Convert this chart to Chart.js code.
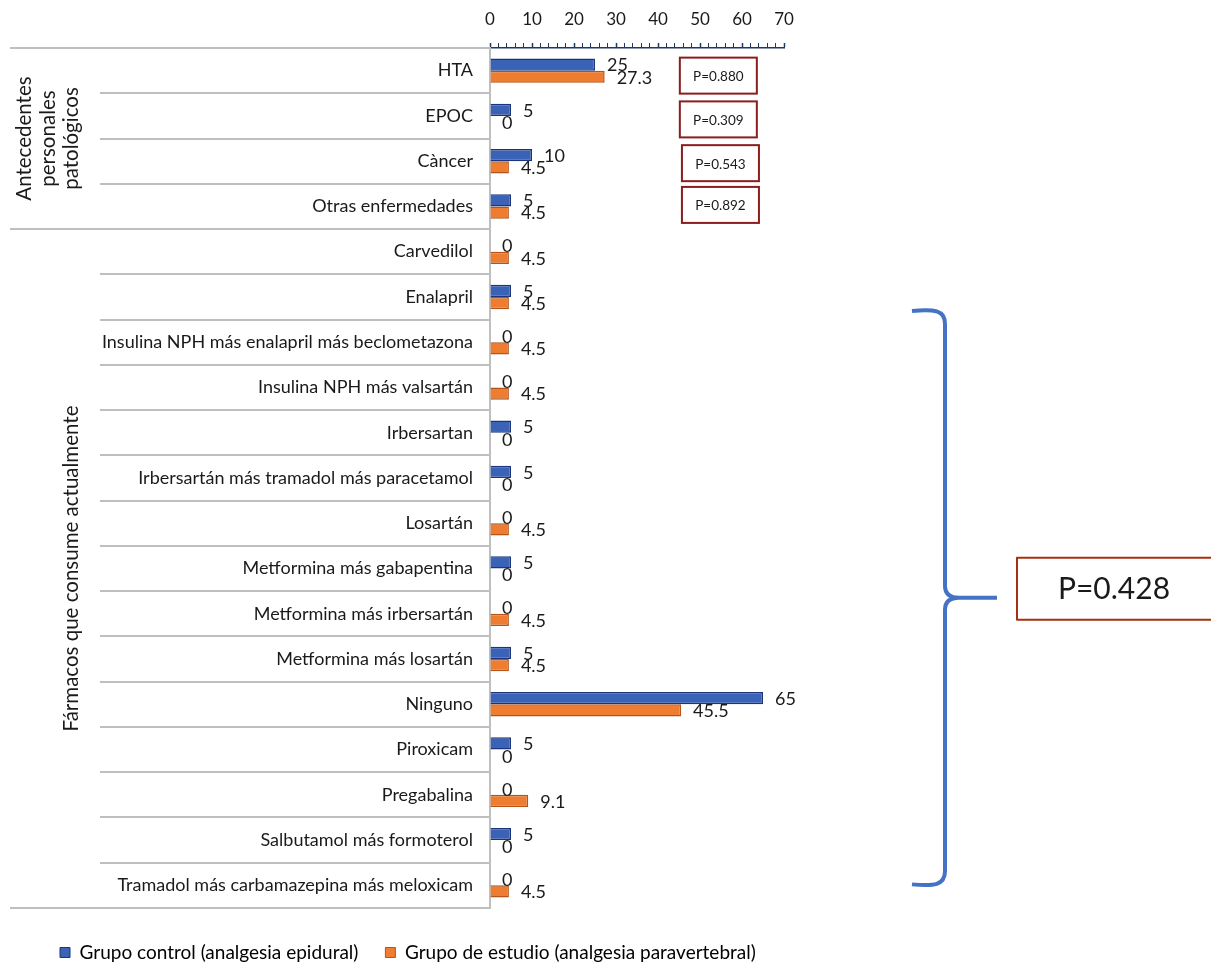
<!DOCTYPE html>
<html>
<head>
<meta charset="utf-8">
<title>Antecedentes y fármacos por grupo</title>
<script src="https://cdn.jsdelivr.net/npm/chart.js@4.4.1/dist/chart.umd.min.js"></script>
<style>
  html, body { margin: 0; padding: 0; background: #ffffff; }
  canvas { display: block; }
</style>
</head>
<body>
<canvas id="chart" width="1211" height="967"></canvas>
<script>
// ---- data ----
const categories = [
  'HTA',
  'EPOC',
  'Càncer',
  'Otras enfermedades',
  'Carvedilol',
  'Enalapril',
  'Insulina NPH más enalapril más beclometazona',
  'Insulina NPH más valsartán',
  'Irbersartan',
  'Irbersartán más tramadol más paracetamol',
  'Losartán',
  'Metformina más gabapentina',
  'Metformina más irbersartán',
  'Metformina más losartán',
  'Ninguno',
  'Piroxicam',
  'Pregabalina',
  'Salbutamol más formoterol',
  'Tramadol más carbamazepina más meloxicam'
];
const controlValues = [25, 5, 10, 5, 0, 5, 0, 0, 5, 5, 0, 5, 0, 5, 65, 5, 0, 5, 0];
const studyValues   = [27.3, 0, 4.5, 4.5, 4.5, 4.5, 4.5, 4.5, 0, 0, 4.5, 0, 4.5, 4.5, 45.5, 0, 9.1, 0, 4.5];
const seriesNames = ['Grupo control (analgesia epidural)', 'Grupo de estudio (analgesia paravertebral)'];
const xTickLabels = [0, 10, 20, 30, 40, 50, 60, 70];
const groupLabels = [['Antecedentes', 'personales', 'patológicos'], ['Fármacos que consume actualmente']];
const groupSizes = [4, 15];
const conditionPValues = ['P=0.880', 'P=0.309', 'P=0.543', 'P=0.892'];
const medicationPValue = 'P=0.428';

// ---- styling ----
const FONT = "Lato, 'Open Sans', sans-serif";
const TEXT = '#1a1a1a';
const SEP = '#bfbfbf';
const BLUE = '#3a63b8', BLUE_EDGE = '#1c3579';
const ORANGE = '#ee7d31', ORANGE_EDGE = '#b4531a';

const whiteBackground = {
  id: 'whiteBackground',
  beforeDraw(chart) {
    const c = chart.ctx;
    c.save();
    c.fillStyle = '#ffffff';
    c.fillRect(0, 0, chart.width, chart.height);
    c.restore();
  }
};

// row separators and rotated group titles on the category side
const categoryFrame = {
  id: 'categoryFrame',
  beforeDatasetsDraw(chart) {
    const c = chart.ctx;
    const area = chart.chartArea;
    const step = (area.bottom - area.top) / categories.length;
    const groupEnds = [];
    let acc = 0;
    groupSizes.forEach(n => { acc += n; groupEnds.push(acc); });
    c.save();
    c.strokeStyle = SEP;
    c.lineWidth = 2;
    for (let i = 0; i <= categories.length; i++) {
      const py = Math.round(area.top + i * step);
      const full = i === 0 || groupEnds.includes(i);
      c.beginPath();
      c.moveTo(full ? 10 : 100, py);
      c.lineTo(area.left, py);
      c.stroke();
    }
    // group titles, written bottom-to-top
    c.fillStyle = TEXT;
    c.font = '20.5px ' + FONT;
    c.textAlign = 'center';
    c.textBaseline = 'middle';
    let start = 0;
    const columns = [[48, 23.5], [71, 0]];
    groupLabels.forEach((lines, g) => {
      const y0 = area.top + start * step;
      const y1 = area.top + (start + groupSizes[g]) * step;
      const cy = (y0 + y1) / 2;
      const [cx, lh] = columns[g];
      lines.forEach((line, k) => {
        const lx = cx + (k - (lines.length - 1) / 2) * lh;
        c.save();
        c.translate(lx, cy);
        c.rotate(-Math.PI / 2);
        c.fillText(line, 0, 0);
        c.restore();
      });
      start += groupSizes[g];
    });
    c.restore();
  }
};

// value labels at the end of every bar
const valueLabels = {
  id: 'valueLabels',
  afterDatasetsDraw(chart) {
    const c = chart.ctx;
    c.save();
    c.fillStyle = TEXT;
    c.font = '18px ' + FONT;
    c.textAlign = 'left';
    c.textBaseline = 'middle';
    chart.data.datasets.forEach((ds, di) => {
      const meta = chart.getDatasetMeta(di);
      meta.data.forEach((bar, i) => {
        c.fillText(String(ds.data[i]), bar.x + 12, bar.y + 1);
      });
    });
    c.restore();
  }
};

// p-value boxes and the brace spanning the medication rows
const pValueNotes = {
  id: 'pValueNotes',
  afterDraw(chart) {
    const c = chart.ctx;
    const x = chart.scales.x;
    const y = chart.scales.y;
    c.save();
    // small boxes beside each condition
    const boxOffsets = [5, 3.5, 2, -1.5];
    const boxLeft = [45.2, 45.2, 45.7, 45.7];
    c.font = '13.5px ' + FONT;
    c.textAlign = 'center';
    c.textBaseline = 'middle';
    conditionPValues.forEach((txt, i) => {
      const cy = y.getPixelForValue(i) + boxOffsets[i];
      const left = x.getPixelForValue(boxLeft[i]);
      c.strokeStyle = '#8b1d1d';
      c.lineWidth = 2;
      c.strokeRect(left, cy - 18, 77, 36);
      c.fillStyle = TEXT;
      c.fillText(txt, left + 38.5, cy + 1);
    });

    // brace
    const top = y.getPixelForValue(5) + 13;
    const bot = y.getPixelForValue(18);
    const mid = (top + bot) / 2;
    const xv = 945, xh = 912, xt = 997;
    c.strokeStyle = '#4472c4';
    c.lineWidth = 4;
    c.lineJoin = 'round';
    c.beginPath();
    c.moveTo(xh, top + 1);
    c.bezierCurveTo(934, top - 1, xv, top, xv, top + 14);
    c.lineTo(xv, mid - 12);
    c.quadraticCurveTo(xv, mid, xv + 14, mid);
    c.lineTo(xt, mid);
    c.moveTo(xh, bot - 1);
    c.bezierCurveTo(934, bot + 1, xv, bot, xv, bot - 14);
    c.lineTo(xv, mid + 12);
    c.quadraticCurveTo(xv, mid, xv + 14, mid);
    c.stroke();

    // overall box for the medication rows
    c.strokeStyle = '#a5320f';
    c.lineWidth = 2;
    c.strokeRect(1017, mid - 40, 210, 62);
    c.fillStyle = TEXT;
    c.font = '30px ' + FONT;
    c.fillText(medicationPValue, 1114, mid - 8);
    c.restore();
  }
};

new Chart(document.getElementById('chart'), {
  type: 'bar',
  data: {
    labels: categories,
    datasets: [
      {
        label: seriesNames[0],
        data: controlValues,
        backgroundColor: BLUE,
        borderColor: BLUE_EDGE,
        borderWidth: 1.5,
        categoryPercentage: 0.54,
        barPercentage: 1.0
      },
      {
        label: seriesNames[1],
        data: studyValues,
        backgroundColor: ORANGE,
        borderColor: ORANGE_EDGE,
        borderWidth: 1.5,
        categoryPercentage: 0.54,
        barPercentage: 1.0
      }
    ]
  },
  options: {
    indexAxis: 'y',
    responsive: false,
    animation: false,
    devicePixelRatio: 1,
    layout: { padding: { left: 33, right: 127, top: 0, bottom: -5 } },
    scales: {
      x: {
        position: 'top',
        min: 0,
        max: 70,
        afterFit(s) { s.height = 48; },
        afterBuildTicks(s) {
          const t = [];
          for (let v = 0; v <= 70; v += 2) t.push({ value: v });
          s.ticks = t;
        },
        ticks: {
          autoSkip: false,
          maxRotation: 0,
          padding: 13,
          color: TEXT,
          font: { family: FONT, size: 17 },
          callback: v => (xTickLabels.includes(v) ? String(v) : '')
        },
        grid: {
          drawOnChartArea: false,
          drawTicks: true,
          tickLength: 5,
          tickColor: '#1f3864',
          tickWidth: ctx => (ctx.tick && ctx.tick.value % 10 === 0 ? 1.5 : 1)
        },
        border: { display: true, color: '#1f3864', width: 1.5 }
      },
      y: {
        type: 'category',
        afterFit(s) { s.width = 457; },
        ticks: {
          autoSkip: false,
          padding: 9,
          color: TEXT,
          font: { family: FONT, size: 18 }
        },
        grid: { display: false },
        border: { display: true, color: SEP, width: 2 }
      },
      spacer: {
        type: 'linear',
        position: 'right',
        afterFit(s) { s.width = 300; },
        ticks: { display: false },
        grid: { display: false },
        border: { display: false }
      },
      gap: {
        type: 'linear',
        position: 'bottom',
        afterFit(s) { s.height = 8; },
        ticks: { display: false },
        grid: { display: false },
        border: { display: false }
      }
    },
    plugins: {
      tooltip: { enabled: false },
      legend: {
        position: 'bottom',
        align: 'start',
        labels: {
          boxWidth: 10,
          boxHeight: 10,
          padding: 27,
          color: TEXT,
          font: { family: FONT, size: 19 },
          generateLabels(chart) {
            return chart.data.datasets.map((ds, i) => ({
              text: ds.label,
              fillStyle: ds.backgroundColor,
              strokeStyle: ds.borderColor,
              lineWidth: 1,
              datasetIndex: i,
              hidden: false
            }));
          }
        }
      }
    }
  },
  plugins: [whiteBackground, categoryFrame, valueLabels, pValueNotes]
});
</script>
</body>
</html>
